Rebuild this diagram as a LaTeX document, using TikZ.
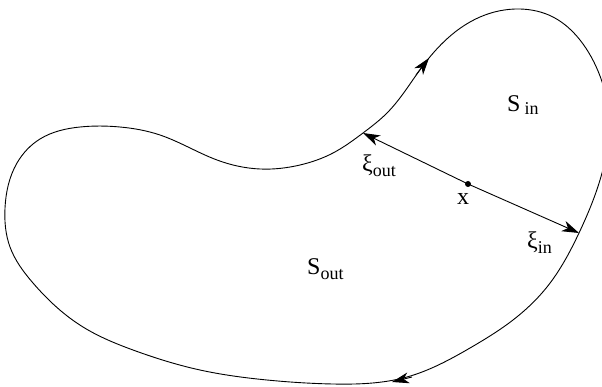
\documentclass[tikz,border=0pt]{standalone}
\usepackage{fontspec}
\setmainfont{Liberation Serif}
\usetikzlibrary{arrows.meta,hobby}
\newcommand\lsub[2][5pt]{\raisebox{-#1}{\fontsize{18}{18}\selectfont #2}}
\begin{document}
\begin{tikzpicture}[x=1pt,y=1pt,
  lbl/.style={inner sep=0pt, anchor=base west, font=\fontsize{24}{24}\selectfont},
  curve/.style={line width=0.9pt},
  tip/.style={-{Stealth[length=17pt,width=11pt,inset=5pt]}, line width=0.9pt}]
\useasboundingbox (0,0) rectangle (602,386);
\clip (0,0) rectangle (602,386);
\draw[curve, use Hobby shortcut, closed=true]
 (363,253) .. (387,273) .. (422,319) .. (480,369) .. (520,377) .. (553,369)
 .. (580,346) .. (600,310) .. (609,270) .. (606,230) .. (579,153) .. (547,99)
 .. (513,66) .. (470,38) .. (407,9) .. (333,2) .. (267,6) .. (200,16) .. (133,36)
 .. (83,59) .. (33,103) .. (10,139) .. (5,178) .. (17,223) .. (40,247)
 .. (80,259) .. (120,259) .. (160,251) .. (217,226) .. (260,217) .. (300,221)
 .. (333,233) .. (363,253);
% direction marks on the curve
\coordinate (ta1) at (416,311);
\coordinate (tb1) at (429,328);
\coordinate (ta2) at (412,9);
\coordinate (tb2) at (392,4);
\draw[tip] (ta1) -- (tb1);
\draw[tip] (ta2) -- (tb2);
% point x and the two vectors
\node[circle, fill, inner sep=0pt, minimum size=6pt] (x) at (468,202) {};
\coordinate (xiin) at (579,153);
\coordinate (xiout) at (363,253);
\draw[tip] (x.center) -- (xiin);
\draw[tip] (x.center) -- (xiout);
% labels
\node[lbl] (sin) at (507,274) {S\hspace{4pt}\lsub[3pt]{in}};
\node[lbl] (sout) at (307,112) {S\lsub{out}};
\node[lbl] (lxiout) at (362,214) {ξ\lsub{out}};
\node[lbl] (lxiin) at (527,138) {ξ\lsub{in}};
\node[lbl] (lx) at (457,182) {x};
\end{tikzpicture}
\end{document}
